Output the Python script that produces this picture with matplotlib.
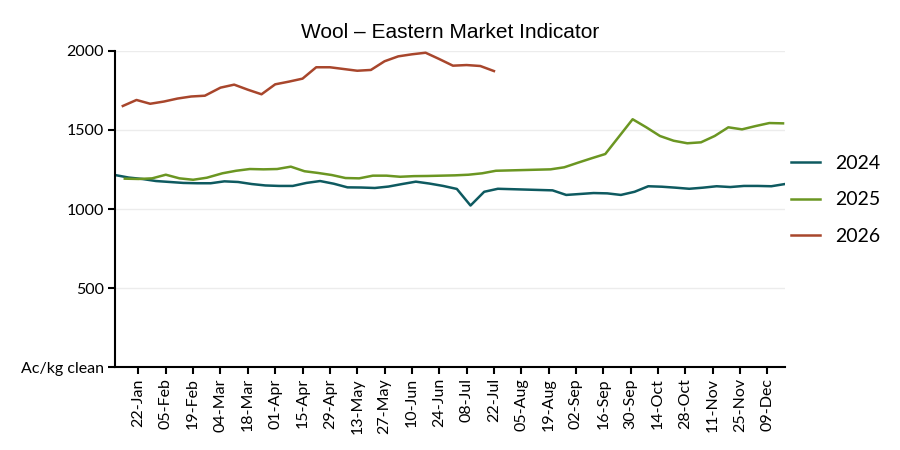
import numpy as np
import pandas as pd
import matplotlib
matplotlib.use("Agg")
import matplotlib.pyplot as plt
import matplotlib.dates as mdates

# sale dates (month-day, plotted on a common 2024 calendar) and EMI values
dates_2024 = ["01-10", "01-17", "01-24", "01-31", "02-07", "02-14", "02-21", "02-28",
              "03-06", "03-13", "03-20", "03-27", "04-03", "04-10", "04-17", "04-24",
              "05-01", "05-08", "05-15", "05-22", "05-29", "06-05", "06-12", "06-19",
              "06-26", "07-03", "07-10", "07-17", "07-24", "08-21", "08-28", "09-04",
              "09-11", "09-18", "09-25", "10-02", "10-09", "10-16", "10-23", "10-30",
              "11-06", "11-13", "11-20", "11-27", "12-04", "12-11", "12-18"]
emi_2024 = [1215, 1199, 1190, 1177, 1171, 1165, 1163, 1163,
            1175, 1171, 1158, 1149, 1146, 1146, 1165, 1177,
            1160, 1137, 1136, 1133, 1142, 1158, 1173, 1161,
            1146, 1127, 1022, 1109, 1128, 1118, 1089, 1095,
            1101, 1099, 1089, 1109, 1144, 1141, 1135, 1128,
            1135, 1144, 1139, 1146, 1146, 1144, 1158]

dates_2025 = ["01-15", "01-22", "01-29", "02-05", "02-12", "02-19", "02-26", "03-05",
              "03-12", "03-19", "03-26", "04-02", "04-09", "04-16", "04-23", "04-30",
              "05-07", "05-14", "05-21", "05-28", "06-04", "06-11", "06-18", "06-25",
              "07-02", "07-09", "07-16", "07-23", "08-20", "08-27", "09-03", "09-10",
              "09-17", "10-01", "10-08", "10-15", "10-22", "10-29", "11-05", "11-12",
              "11-19", "11-26", "12-03", "12-10", "12-17"]
emi_2025 = [1192, 1190, 1194, 1217, 1194, 1185, 1198, 1226,
            1242, 1253, 1251, 1253, 1268, 1239, 1228, 1215,
            1196, 1194, 1211, 1211, 1204, 1208, 1209, 1211,
            1213, 1217, 1226, 1242, 1251, 1264, 1293, 1321,
            1348, 1568, 1517, 1462, 1432, 1416, 1422, 1462,
            1517, 1504, 1525, 1544, 1542]

dates_2026 = ["01-14", "01-21", "01-28", "02-04", "02-11", "02-18", "02-25", "03-04",
              "03-11", "03-18", "03-25", "04-01", "04-08", "04-15", "04-22", "04-29",
              "05-06", "05-13", "05-20", "05-27", "06-03", "06-10", "06-17", "06-24",
              "07-01", "07-08", "07-15", "07-22"]
emi_2026 = [1652, 1690, 1666, 1680, 1699, 1712, 1717, 1768,
            1787, 1755, 1726, 1789, 1806, 1825, 1897, 1897,
            1886, 1875, 1880, 1935, 1966, 1979, 1989, 1949,
            1907, 1911, 1905, 1873]

years = ["2024", "2025", "2026"]
colors = ["#0e5a60", "#6b9622", "#a8462c"]
series = [(dates_2024, emi_2024), (dates_2025, emi_2025), (dates_2026, emi_2026)]

tick_font = "Lato"

fig = plt.figure(figsize=(9, 4.5), dpi=100)
ax = fig.add_axes([0.1278, 0.1844, 0.7444, 0.7023])

for yr, col, (d, v) in zip(years, colors, series):
    x = pd.to_datetime(["2024-" + s for s in d])
    ax.plot(x, v, color=col, lw=1.8, label=yr)

ax.set_xlim(pd.Timestamp("2024-01-10"), pd.Timestamp("2024-12-18"))
ax.set_ylim(0, 2000)

xt = pd.date_range("2024-01-22", "2024-12-09", freq="14D")
ax.set_xticks(xt)
ax.set_xticklabels([t.strftime("%d-%b") for t in xt], rotation=90,
                   fontsize=11.5, family=tick_font)

yt = [0, 500, 1000, 1500, 2000]
ax.set_yticks(yt)
ax.set_yticklabels(["Ac/kg clean", "500", "1000", "1500", "2000"],
                   fontsize=11.5, family=tick_font)

ax.grid(axis="y", color="#ececec", lw=1)
ax.set_axisbelow(True)
for s in ["top", "right"]:
    ax.spines[s].set_visible(False)
for s in ["left", "bottom"]:
    ax.spines[s].set_linewidth(1.5)
ax.tick_params(axis="both", length=5, width=1.5, pad=3)

ax.set_title("Wool \u2013 Eastern Market Indicator", fontsize=15,
             family="Liberation Sans", pad=9)

leg = ax.legend(loc="center left", bbox_to_anchor=(1.0, 0.529), frameon=False,
                prop={"family": tick_font, "size": 14}, labelspacing=0.99,
                handlelength=1.5, handletextpad=0.8, borderaxespad=0,
                borderpad=0.3)

fig.savefig("out.png", dpi=100)
